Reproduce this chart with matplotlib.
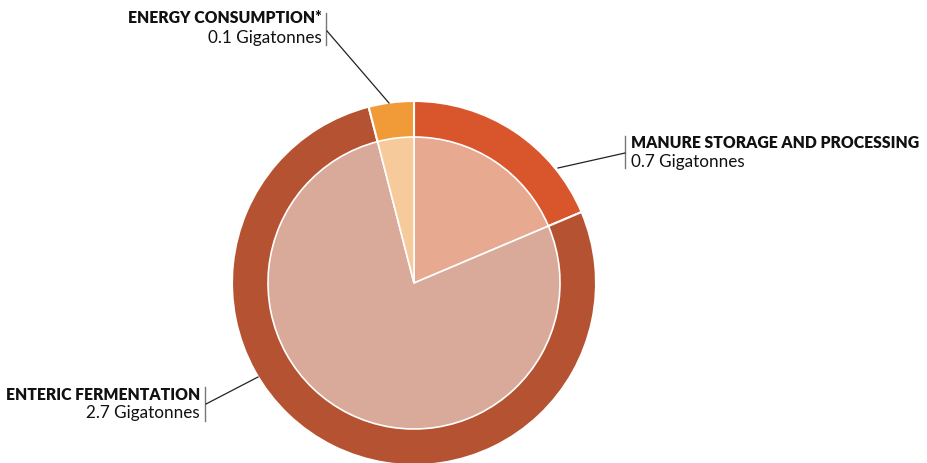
import matplotlib
matplotlib.use("Agg")
import matplotlib.pyplot as plt

categories = ["MANURE STORAGE AND PROCESSING", "ENTERIC FERMENTATION", "ENERGY CONSUMPTION*"]
values = [0.65, 2.7, 0.14]
value_labels = ["0.7 Gigatonnes", "2.7 Gigatonnes", "0.1 Gigatonnes"]
outer_colors = ["#D9552B", "#B55232", "#F09B38"]
inner_colors = ["#E8A991", "#D9A99A", "#F6CA9A"]

W, H = 928, 463
fig = plt.figure(figsize=(W / 100, H / 100), dpi=100)
ax = fig.add_axes([0, 0, 1, 1])
ax.set_xlim(0, W)
ax.set_ylim(0, H)
ax.set_aspect("equal")
ax.axis("off")

cx, cy = 414, H - 283
ax.pie(values, colors=outer_colors, radius=182, center=(cx, cy), startangle=90,
       counterclock=False, wedgeprops=dict(edgecolor="white", linewidth=1.5))
ax.pie(values, colors=inner_colors, radius=146, center=(cx, cy), startangle=90,
       counterclock=False, wedgeprops=dict(edgecolor="white", linewidth=1.2))
ax.set_xlim(0, W)
ax.set_ylim(0, H)

font = "Lato"
fsb = 11.35
fsr = 12.3

def Y(y):
    return H - y

# Energy consumption label (top-left)
ax.text(322, Y(18), categories[2], ha="right", va="center", fontsize=fsb, fontweight="heavy", family=font, color="#111111")
ax.text(322, Y(38), value_labels[2], ha="right", va="center", fontsize=fsr, family=font, color="#111111")
ax.plot([326, 326], [Y(13), Y(45)], color="#777777", lw=1)
ax.plot([327, 389], [Y(31), Y(103)], color="#222222", lw=0.9)

# Manure label (right)
ax.text(631, Y(143), categories[0], ha="left", va="center", fontsize=fsb, fontweight="heavy", family=font, color="#111111")
ax.text(631, Y(162), value_labels[0], ha="left", va="center", fontsize=fsr, family=font, color="#111111")
ax.plot([625, 625], [Y(136), Y(168)], color="#777777", lw=1)
ax.plot([625, 558], [Y(153), Y(168)], color="#222222", lw=0.9)

# Enteric label (bottom-left)
ax.text(200, Y(395), categories[1], ha="right", va="center", fontsize=fsb, fontweight="heavy", family=font, color="#111111")
ax.text(200, Y(413), value_labels[1], ha="right", va="center", fontsize=fsr, family=font, color="#111111")
ax.plot([205, 205], [Y(387), Y(421)], color="#777777", lw=1)
ax.plot([206, 258], [Y(404), Y(377)], color="#222222", lw=0.9)

fig.savefig("out.png", dpi=100)
